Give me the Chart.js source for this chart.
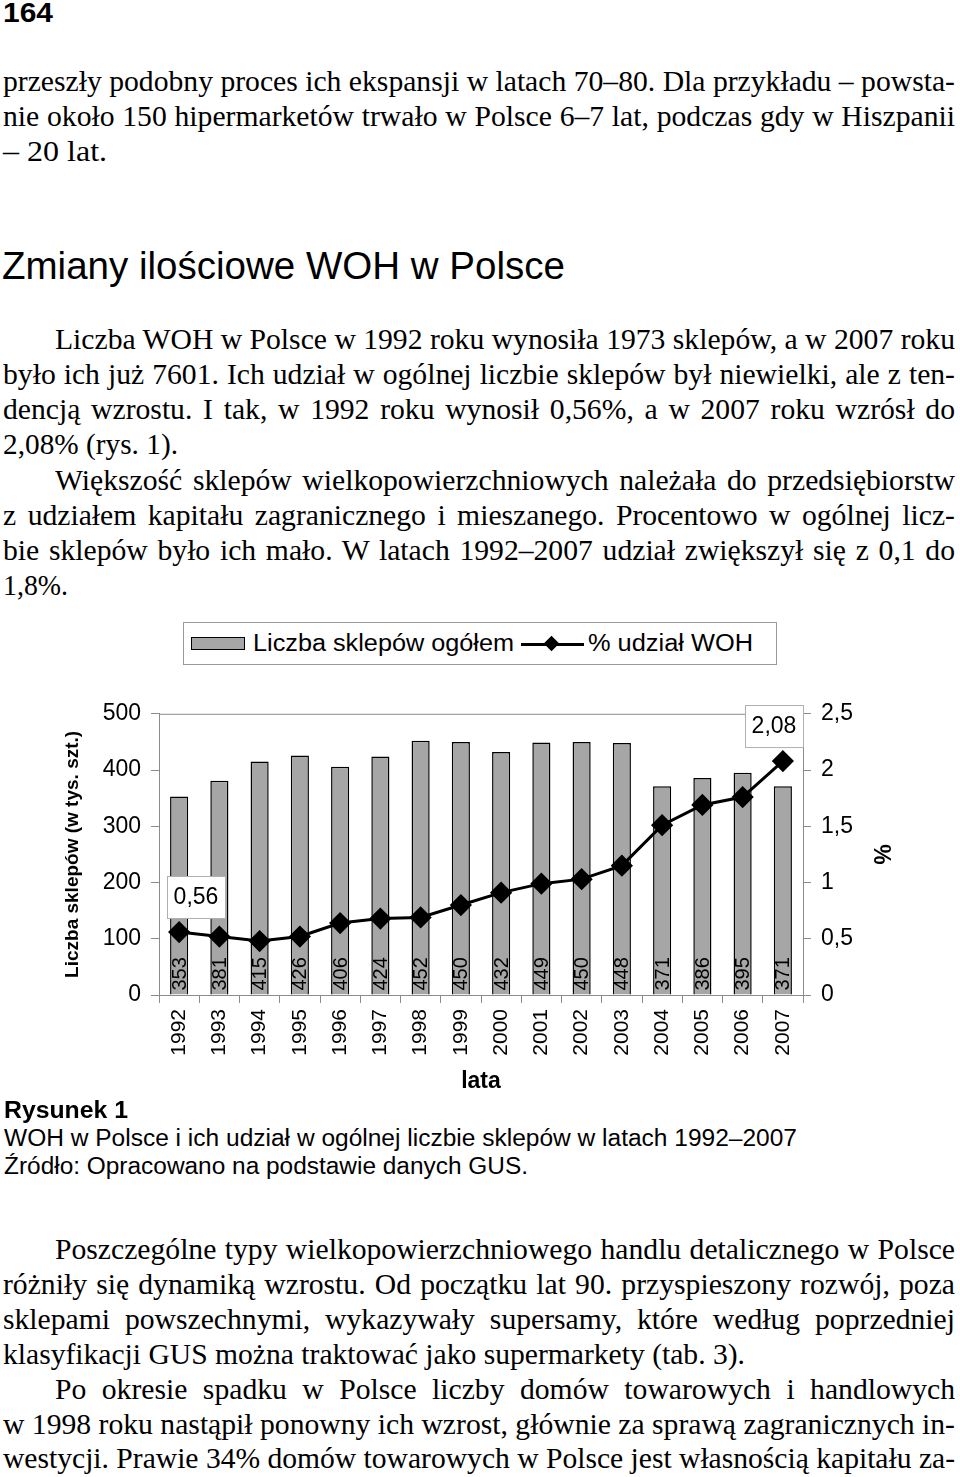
<!DOCTYPE html>
<html lang="pl">
<head>
<meta charset="utf-8">
<title>Zmiany ilościowe WOH w Polsce</title>
<script src="https://cdn.jsdelivr.net/npm/chart.js@4.4.1/dist/chart.umd.min.js"></script>
<style>
    html, body { margin: 0; padding: 0; background: #fff; }
    body { width: 960px; height: 1477px; position: relative; overflow: hidden; color: #000; }
    .ln {
        position: absolute;
        white-space: nowrap;
        font-family: "Liberation Serif", "Times New Roman", serif;
        font-size: 30px;
        line-height: 35px;
        transform-origin: 0 0;
    }
    .sans { font-family: "Liberation Sans", Arial, sans-serif; }
    #chartBox { position: absolute; left: 57px; top: 690px; }
    .legend {
        position: absolute; left: 183px; top: 622px; width: 592px; height: 41px;
        border: 1px solid #9a9a9a;
        font-family: "Liberation Sans", Arial, sans-serif; font-size: 23px;
    }
    .legend .sw { position: absolute; left: 7px; top: 14px; width: 52px; height: 11px; background: #a6a6a6; border: 1.5px solid #000; }
    .legend .t { position: absolute; top: 6px; line-height: 28px; white-space: nowrap; transform-origin: 0 0; }
    .legend .ln2 { position: absolute; left: 337px; top: 20px; width: 63px; height: 3px; background: #000; }
    .legend .dm { position: absolute; left: 362px; top: 15px; width: 11px; height: 11px; background: #000; transform: rotate(45deg); }
</style>
</head>
<body>

<div class="legend">
    <div class="sw"></div>
    <div class="t" id="lg1">Liczba sklepów ogółem</div>
    <div class="ln2"></div>
    <div class="dm"></div>
    <div class="t" id="lg2">% udział WOH</div>
</div>

<div id="chartBox"><canvas id="chart" width="841" height="409"></canvas></div>

<script>
// dane z rysunku 1
const years = ['1992', '1993', '1994', '1995', '1996', '1997', '1998', '1999',
               '2000', '2001', '2002', '2003', '2004', '2005', '2006', '2007'];
const shopCounts = [353, 381, 415, 426, 406, 424, 452, 450, 432, 449, 450, 448, 371, 386, 395, 371];
const wohShare = [0.56, 0.52, 0.48, 0.52, 0.64, 0.68, 0.69, 0.80, 0.91, 0.99, 1.03, 1.15, 1.51, 1.69, 1.76, 2.08];
const shareLabelIdx = [0, wohShare.length - 1];
const countTicks = { min: 0, max: 500, step: 100 };
const shareTicks = { min: 0, max: 2.5, step: 0.5 };

const plFmt = (v) => String(v).replace('.', ',');

// tekst strony: [tekst, lewa krawędź, prawa krawędź, środek y, wyjustowany]
const serifLines = [
    ['przeszły podobny proces ich ekspansji w latach 70–80. Dla przykładu – powsta-', 3, 955, 81, true],
    ['nie około 150 hipermarketów trwało w Polsce 6–7 lat, podczas gdy w Hiszpanii', 3, 955, 116, true],
    ['– 20 lat.', 3, 125, 151, false],
    ['Liczba WOH w Polsce w 1992 roku wynosiła 1973 sklepów, a w 2007 roku', 55, 955, 339, true],
    ['było ich już 7601. Ich udział w ogólnej liczbie sklepów był niewielki, ale z ten-', 3, 955, 374, true],
    ['dencją wzrostu. I tak, w 1992 roku wynosił 0,56%, a w 2007 roku wzrósł do', 3, 955, 409, true],
    ['2,08% (rys. 1).', 3, 178, 444, false],
    ['Większość sklepów wielkopowierzchniowych należała do przedsiębiorstw', 55, 955, 480, true],
    ['z udziałem kapitału zagranicznego i mieszanego. Procentowo w ogólnej licz-', 3, 955, 515, true],
    ['bie sklepów było ich mało. W latach 1992–2007 udział zwiększył się z 0,1 do', 3, 955, 550, true],
    ['1,8%.', 3, 68, 585, false],
    ['Poszczególne typy wielkopowierzchniowego handlu detalicznego w Polsce', 55, 955, 1249, true],
    ['różniły się dynamiką wzrostu. Od początku lat 90. przyspieszony rozwój, poza', 3, 955, 1284, true],
    ['sklepami powszechnymi, wykazywały supersamy, które według poprzedniej', 3, 955, 1319, true],
    ['klasyfikacji GUS można traktować jako supermarkety (tab. 3).', 3, 745, 1354, false],
    ['Po okresie spadku w Polsce liczby domów towarowych i handlowych', 55, 955, 1389, true],
    ['w 1998 roku nastąpił ponowny ich wzrost, głównie za sprawą zagranicznych in-', 3, 955, 1424, true],
    ['westycji. Prawie 34% domów towarowych w Polsce jest własnością kapitału za-', 3, 955, 1458, true]
];

// [tekst, lewa, prawa, góra, rozmiar, pogrubienie]
const sansLines = [
    ['164', 3, 53, -4, 28, true],
    ['Zmiany ilościowe WOH w Polsce', 2, 565, 243, 38, false],
    ['Rysunek 1', 4, 128, 1096, 23, true],
    ['WOH w Polsce i ich udział w ogólnej liczbie sklepów w latach 1992–2007', 4, 797, 1124, 23, false],
    ['Źródło: Opracowano na podstawie danych GUS.', 4, 528, 1152, 23, false]
];

function placeText() {
    const els = serifLines.map(([text, left, right, cy]) => {
        const el = document.createElement('div');
        el.className = 'ln';
        el.textContent = text;
        el.style.left = left + 'px';
        el.style.top = (cy - 18) + 'px';
        document.body.appendChild(el);
        return el;
    });
    const ratios = serifLines.map((l, i) => (l[2] - l[1]) / els[i].getBoundingClientRect().width);
    const justRatios = ratios.filter((_, i) => serifLines[i][4]).sort((a, b) => a - b);
    const base = justRatios[1];

    serifLines.forEach((l, i) => {
        const el = els[i];
        const target = l[2] - l[1];
        let s;
        if (l[4]) {
            s = Math.min(base, ratios[i]);
            el.style.width = (target / s) + 'px';
            el.style.textAlign = 'justify';
            el.style.textAlignLast = 'justify';
        } else {
            s = Math.min(Math.max(ratios[i], base * 0.92), base * 1.08);
        }
        el.style.transform = 'scaleX(' + s + ')';
    });

    sansLines.forEach(([text, left, right, top, size, bold]) => {
        const el = document.createElement('div');
        el.className = 'ln sans';
        el.textContent = text;
        el.style.left = left + 'px';
        el.style.top = top + 'px';
        el.style.fontSize = size + 'px';
        el.style.lineHeight = Math.round(size * 1.2) + 'px';
        if (bold) el.style.fontWeight = 'bold';
        document.body.appendChild(el);
        const w = el.getBoundingClientRect().width;
        el.style.transform = 'scaleX(' + ((right - left) / w) + ')';
    });

    // legenda
    [['lg1', 69, 330], ['lg2', 404, 569]].forEach(([id, left, right]) => {
        const el = document.getElementById(id);
        el.style.left = left + 'px';
        const w = el.getBoundingClientRect().width;
        el.style.transform = 'scaleX(' + ((right - left) / w) + ')';
    });
}

// ramka obszaru wykresu
const plotFrame = {
    id: 'plotFrame',
    beforeDatasetsDraw(chart) {
        const { ctx, chartArea: a } = chart;
        ctx.save();
        ctx.strokeStyle = '#8c8c8c';
        ctx.lineWidth = 1;
        ctx.strokeRect(a.left + 0.5, a.top + 0.5, a.right - a.left, a.bottom - a.top);
        ctx.restore();
    }
};

// etykiety wartości na słupkach i przy linii
const valueLabels = {
    id: 'valueLabels',
    afterDatasetsDraw(chart) {
        const { ctx, chartArea: a } = chart;
        const barMeta = chart.getDatasetMeta(1);
        ctx.save();
        ctx.fillStyle = '#000';
        ctx.font = '20px "Liberation Sans", Arial, sans-serif';
        ctx.textAlign = 'left';
        ctx.textBaseline = 'middle';
        barMeta.data.forEach((bar, i) => {
            ctx.save();
            ctx.translate(bar.x + 1, bar.base - 4);
            ctx.rotate(-Math.PI / 2);
            ctx.fillText(String(shopCounts[i]), 0, 0);
            ctx.restore();
        });

        const lineMeta = chart.getDatasetMeta(0);
        ctx.font = '23px "Liberation Sans", Arial, sans-serif';
        ctx.textAlign = 'center';
        shareLabelIdx.forEach((i) => {
            const pt = lineMeta.data[i];
            const txt = wohShare[i].toFixed(2).replace('.', ',');
            const w = 58, h = 42;
            const cx = Math.min(Math.max(pt.x, a.left + 8 + w / 2), a.right - w / 2);
            const cy = pt.y - 35;
            ctx.fillStyle = '#fff';
            ctx.fillRect(cx - w / 2, cy - h / 2, w, h);
            ctx.strokeStyle = '#b0b0b0';
            ctx.lineWidth = 1;
            ctx.strokeRect(cx - w / 2 + 0.5, cy - h / 2 + 0.5, w, h);
            ctx.fillStyle = '#000';
            ctx.fillText(txt, cx, cy + 1);
        });
        ctx.restore();
    }
};

function buildChart() {
    const axisGrey = '#8c8c8c';
    const tickFont = { family: '"Liberation Sans", Arial, sans-serif', size: 23 };

    new Chart(document.getElementById('chart').getContext('2d'), {
        type: 'bar',
        data: {
            labels: years,
            datasets: [
                {
                    type: 'line',
                    label: '% udział WOH',
                    data: wohShare,
                    yAxisID: 'y1',
                    borderColor: '#000',
                    borderWidth: 3,
                    pointStyle: 'rectRot',
                    pointRadius: 9,
                    pointBackgroundColor: '#000',
                    pointBorderColor: '#000',
                    tension: 0,
                    order: 0
                },
                {
                    label: 'Liczba sklepów ogółem',
                    data: shopCounts,
                    yAxisID: 'y',
                    backgroundColor: '#a6a6a6',
                    borderColor: '#000',
                    borderWidth: 1.5,
                    barPercentage: 0.45,
                    categoryPercentage: 1,
                    order: 1
                }
            ]
        },
        options: {
            responsive: false,
            animation: false,
            devicePixelRatio: 1,
            layout: { padding: { top: 20, left: 0, right: 0, bottom: 0 } },
            plugins: {
                legend: { display: false },
                tooltip: { enabled: false }
            },
            scales: {
                x: {
                    grid: { drawOnChartArea: false, tickLength: 8, color: axisGrey, offset: true },
                    border: { color: axisGrey },
                    ticks: {
                        minRotation: 90, maxRotation: 90, padding: 6, color: '#000',
                        font: { family: tickFont.family, size: 21 }
                    },
                    title: {
                        display: true, text: 'lata', color: '#000',
                        font: { family: tickFont.family, size: 23, weight: 'bold' }
                    },
                    afterFit: (s) => { s.height = 104; }
                },
                y: {
                    position: 'left',
                    min: countTicks.min, max: countTicks.max,
                    ticks: { stepSize: countTicks.step, padding: 10, color: '#000', font: tickFont },
                    grid: { drawOnChartArea: false, tickLength: 8, color: axisGrey },
                    border: { color: axisGrey },
                    title: {
                        display: true, text: 'Liczba sklepów (w tys. szt.)', color: '#000',
                        font: { family: tickFont.family, size: 19, weight: 'bold' }
                    },
                    afterFit: (s) => { s.width = 102; }
                },
                y1: {
                    position: 'right',
                    min: shareTicks.min, max: shareTicks.max,
                    ticks: { stepSize: shareTicks.step, padding: 10, color: '#000', font: tickFont, callback: plFmt },
                    grid: { drawOnChartArea: false, tickLength: 8, color: axisGrey },
                    border: { color: axisGrey },
                    title: {
                        display: true, text: '%', color: '#000',
                        font: { family: tickFont.family, size: 23, weight: 'bold' }
                    },
                    afterFit: (s) => { s.width = 95; }
                }
            }
        },
        plugins: [plotFrame, valueLabels]
    });
}

document.addEventListener('DOMContentLoaded', () => {
    placeText();
    if (typeof Chart === 'undefined') return;
    buildChart();
});
</script>
</body>
</html>
